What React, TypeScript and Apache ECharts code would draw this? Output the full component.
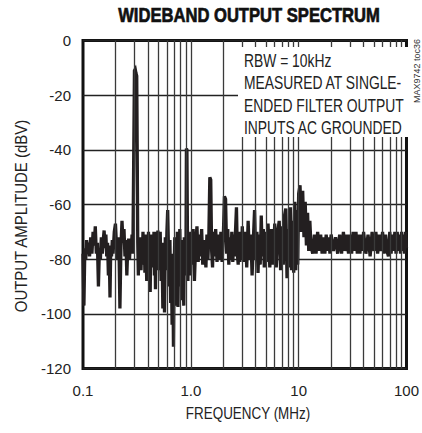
import React, { useEffect, useRef } from "react";
import * as echarts from "echarts";

const FONT = "'Liberation Sans', Arial, sans-serif";

const TITLE = "WIDEBAND OUTPUT SPECTRUM";
const X_NAME = "FREQUENCY (MHz)";
const Y_NAME = "OUTPUT AMPLITUDE (dBV)";
const SIDE_TAG = "MAX9742 toc36";
const NOTE_LINES = ["RBW = 10kHz", "MEASURED AT SINGLE-", "ENDED FILTER OUTPUT", "INPUTS AC GROUNDED"];

const X_TICK_LABELS: Record<string, string> = { "0.1": "0.1", "1": "1.0", "10": "10", "100": "100" };
const GRID_FREQS = [
  0.2, 0.3, 0.4, 0.5, 0.6, 0.7, 0.8, 0.9, 1,
  2, 3, 4, 5, 6, 7, 8, 9, 10,
  20, 30, 40, 50, 60, 70, 80, 90,
];

// decade 0.1 - 1 MHz
const FREQ_A = [
  0.100, 0.102, 0.104, 0.106, 0.108, 0.110, 0.112, 0.115, 0.118, 0.121,
  0.124, 0.127, 0.130, 0.133, 0.136, 0.139, 0.142, 0.145, 0.148, 0.151,
  0.154, 0.157, 0.160, 0.163, 0.166, 0.169, 0.172, 0.175, 0.178, 0.181,
  0.184, 0.187, 0.190, 0.195, 0.200, 0.205, 0.210, 0.215, 0.220, 0.225,
  0.230, 0.235, 0.240, 0.245, 0.250, 0.255, 0.260, 0.265, 0.270, 0.275,
  0.280, 0.285, 0.290, 0.295, 0.300, 0.305, 0.310, 0.315, 0.318, 0.322,
  0.326, 0.330, 0.335, 0.340, 0.345, 0.350, 0.355, 0.360, 0.365, 0.370,
  0.375, 0.380, 0.385, 0.390, 0.395, 0.400, 0.405, 0.410, 0.415, 0.420,
  0.425, 0.430, 0.435, 0.440, 0.445, 0.450, 0.455, 0.460, 0.465, 0.470,
  0.475, 0.480, 0.485, 0.490, 0.495, 0.500, 0.510, 0.520, 0.530, 0.540,
  0.550, 0.560, 0.570, 0.580, 0.590, 0.600, 0.610, 0.620, 0.630, 0.640,
  0.650, 0.660, 0.670, 0.680, 0.690, 0.700, 0.710, 0.720, 0.730, 0.740,
  0.750, 0.760, 0.770, 0.780, 0.790, 0.800, 0.810, 0.820, 0.830, 0.840,
  0.850, 0.860, 0.870, 0.880, 0.890, 0.900, 0.910, 0.920, 0.930, 0.940,
  0.950, 0.960, 0.970, 0.980, 0.990,
];
const DBV_A = [
  -78, -97, -76, -80, -73, -77, -74, -79, -72, -78,
  -70, -75, -68, -78, -74, -90, -76, -80, -72, -78,
  -73, -69.5, -76, -71, -79, -74, -86, -77, -94, -75,
  -79, -73, -78, -70, -67, -76, -80, -72, -98, -75,
  -66, -74, -69, -79, -73, -86, -76, -72.5, -80, -74,
  -77, -71, -78, -45, -11, -10.5, -12, -13, -38, -74,
  -86, -73, -81, -72, -84, -74, -79, -70, -82, -72,
  -85, -71, -79, -88, -73, -81, -70, -84, -72, -92,
  -75, -80, -71, -83, -73, -80, -70, -86, -72, -91,
  -74, -82, -70, -84, -69.5, -84, -73, -70, -88, -75,
  -98, -74, -99.5, -72, -84, -70, -62, -76, -90, -73,
  -96, -80, -104, -78, -112, -84, -72, -97, -76, -90,
  -70, -97.5, -74, -86, -69, -80, -90, -73, -95, -76,
  -88, -97, -72, -86, -74, -84, -39.5, -40, -70, -88,
  -72, -84, -73, -86, -74,
];

// decade 1 - 10 MHz
const FREQ_B = [
  1.00, 1.02, 1.05, 1.08, 1.11, 1.14, 1.17, 1.20, 1.23, 1.26,
  1.29, 1.32, 1.35, 1.38, 1.41, 1.44, 1.47, 1.50, 1.53, 1.56,
  1.59, 1.62, 1.65, 1.70, 1.75, 1.80, 1.85, 1.90, 1.95, 2.00,
  2.05, 2.10, 2.15, 2.20, 2.25, 2.30, 2.35, 2.40, 2.45, 2.50,
  2.55, 2.60, 2.65, 2.70, 2.75, 2.80, 2.85, 2.90, 2.95, 3.00,
  3.10, 3.20, 3.30, 3.40, 3.50, 3.60, 3.70, 3.80, 3.90, 4.00,
  4.10, 4.20, 4.30, 4.40, 4.50, 4.60, 4.70, 4.80, 4.90, 5.00,
  5.20, 5.40, 5.60, 5.80, 6.00, 6.20, 6.40, 6.60, 6.80, 7.00,
  7.20, 7.40, 7.60, 7.80, 8.00, 8.20, 8.40, 8.60, 8.80, 9.00,
  9.20, 9.40, 9.60, 9.80,
];
const DBV_B = [
  -70, -82, -69, -88, -74, -68, -81, -71, -79, -69,
  -82, -73, -77, -83, -71, -80, -71, -50, -51, -77,
  -83, -70, -79, -69, -81, -71, -80, -70, -81, -72,
  -57, -58, -78, -69, -82, -72, -80, -70, -81, -71,
  -79, -69, -61, -78, -82, -70, -81, -71, -80, -68,
  -81, -70, -83, -66, -80, -71, -86, -73, -62, -80,
  -70, -85, -71, -82, -64, -79, -69, -83, -70, -81,
  -67, -83, -69, -82, -67, -83, -70, -66, -84, -68,
  -82, -64, -61.5, -87, -69, -83, -61, -84, -66, -85,
  -59, -84, -62, -82,
];

// decade 10 - 100 MHz
const FREQ_C = [
  10.0, 10.3, 10.6, 10.9, 11.2, 11.5, 11.8, 12.1, 12.4, 12.7,
  13.0, 13.5, 14.0, 14.5, 15.0, 15.5, 16.0, 16.5, 17.0, 17.5,
  18.0, 18.5, 19.0, 19.5, 20, 21, 22, 23, 24, 25,
  26, 27, 28, 29, 30, 31, 32, 33, 34, 35,
  36, 37, 38, 39, 40, 42, 44, 46, 48, 50,
  52, 54, 56, 58, 60, 62, 64, 66, 68, 70,
  72, 74, 76, 78, 80, 82, 84, 86, 88, 90,
  92, 94, 96, 98, 100,
];
const DBV_C = [
  -56, -53, -70, -55, -72, -59, -75, -63, -77, -66,
  -75, -78, -71, -78, -70, -77, -71, -78, -72, -78,
  -71, -77, -72, -78, -71, -77, -72, -78, -71, -78,
  -70, -77, -71, -78, -71, -78, -70, -77, -70, -78,
  -71, -78, -71, -77, -70, -78, -71, -79, -70, -77,
  -70, -78, -71, -77, -70, -78, -71, -77, -79, -70,
  -78, -71, -77, -70, -78, -70, -77, -71, -78, -70,
  -77, -71, -78, -70, -76,
];

const FREQ_MHZ = [...FREQ_A, ...FREQ_B, ...FREQ_C];
const AMPLITUDE_DBV = [...DBV_A, ...DBV_B, ...DBV_C];

export default function App() {
  const ref = useRef<HTMLDivElement>(null);

  useEffect(() => {
    if (!ref.current) return;
    const chart = echarts.init(ref.current, undefined, { renderer: "svg" });
    const traceData = FREQ_MHZ.map((f, i) => [f, AMPLITUDE_DBV[i]]);

    chart.setOption({
      animation: false,
      backgroundColor: "#fff",
      grid: {
        left: 83,
        right: 9,
        top: 40.5,
        bottom: 64.5,
        show: true,
        borderColor: "#111",
        borderWidth: 3,
        backgroundColor: "transparent",
      },
      xAxis: {
        type: "log",
        logBase: 10,
        min: 0.1,
        max: 100,
        axisLine: { show: false },
        axisTick: { show: false },
        splitLine: { show: false },
        axisLabel: {
          fontFamily: FONT,
          fontSize: 15,
          color: "#222",
          margin: 14,
          formatter: (v: number) => {
            const key = v < 0.5 ? "0.1" : v < 5 ? "1" : v < 50 ? "10" : "100";
            return X_TICK_LABELS[key];
          },
        },
      },
      yAxis: {
        type: "value",
        min: -120,
        max: 0,
        interval: 20,
        axisLine: { show: false },
        axisTick: { show: false },
        axisLabel: { fontFamily: FONT, fontSize: 15, color: "#222", margin: 12 },
        splitLine: { show: true, lineStyle: { color: "#222", width: 1.4 } },
      },
      graphic: [
        {
          type: "text",
          x: 249,
          y: 15,
          scaleX: 0.83,
          style: {
            text: TITLE,
            fontFamily: FONT,
            fontSize: 20,
            fontWeight: "bold",
            fill: "#111",
            stroke: "#111",
            lineWidth: 0.7,
            align: "center",
            verticalAlign: "middle",
          },
        },
        {
          type: "rect",
          shape: { x: 238, y: 47, width: 173, height: 90 },
          style: { fill: "#fff" },
          z: 10,
        },
        {
          type: "text",
          x: 244,
          y: 48.75,
          scaleX: 0.77,
          z: 11,
          style: {
            text: NOTE_LINES.join("\n"),
            fontFamily: FONT,
            fontSize: 18,
            lineHeight: 22.5,
            fill: "#222",
          },
        },
        {
          type: "text",
          x: 248,
          y: 414,
          scaleX: 0.84,
          style: {
            text: X_NAME,
            fontFamily: FONT,
            fontSize: 16,
            fill: "#222",
            align: "center",
            verticalAlign: "middle",
          },
        },
        {
          type: "text",
          x: 21,
          y: 216,
          rotation: Math.PI / 2,
          scaleX: 0.88,
          style: {
            text: Y_NAME,
            fontFamily: FONT,
            fontSize: 17,
            fill: "#222",
            align: "center",
            verticalAlign: "middle",
          },
        },
        {
          type: "text",
          x: 417,
          y: 71,
          rotation: Math.PI / 2,
          style: {
            text: SIDE_TAG,
            fontFamily: FONT,
            fontSize: 9,
            fill: "#333",
            align: "center",
            verticalAlign: "middle",
          },
        },
      ],
      series: [
        {
          type: "line",
          data: [],
          z: 1,
          silent: true,
          markLine: {
            silent: true,
            symbol: "none",
            label: { show: false },
            lineStyle: { color: "#3a3a3a", width: 1.3, type: "solid" },
            data: GRID_FREQS.map((f) => ({ xAxis: f })),
          },
        },
        {
          type: "line",
          data: traceData,
          z: 3,
          showSymbol: false,
          symbol: "none",
          lineStyle: { color: "#231f20", width: 3.3, join: "miter" },
        },
      ],
    });

    return () => chart.dispose();
  }, []);

  return (
    <div
      ref={ref}
      style={{ position: "absolute", left: 0, top: 0, width: 422, height: 433 }}
    />
  );
}
